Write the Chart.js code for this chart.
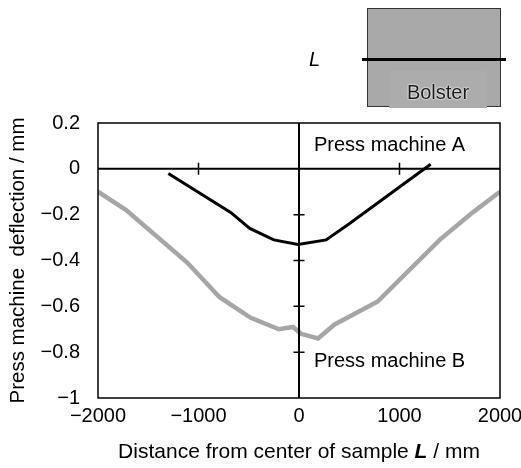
<!DOCTYPE html>
<html>
<head>
<meta charset="utf-8">
<script src="https://cdn.jsdelivr.net/npm/chart.js@4"></script>
<style>
  html, body { margin: 0; padding: 0; background: #fff; }
  #wrap { position: relative; width: 521px; height: 468px; }
  #c { position: absolute; left: 0; top: 0; }
  .box { position: absolute; left: 367px; top: 8px; width: 132px; height: 97px; background: #a9a9a9; border: 1.5px solid #333; }
  .inner { position: absolute; left: 389px; top: 71px; width: 98px; height: 37px; background: #acacac; }
  .bar { position: absolute; left: 362px; top: 57.5px; width: 144px; height: 3px; background: #000; }
  .bol { position: absolute; left: 388px; top: 79px; width: 100px; text-align: center; font: 20px "Liberation Sans", Arial, sans-serif; color: #1a1a1a; text-shadow: 0 0 2px #fff, 0 0 2px #fff; line-height: 26px; }
  .L { position: absolute; left: 309px; top: 46px; font: italic 20px "Liberation Sans", Arial, sans-serif; color: #000; line-height: 26px; }
</style>
</head>
<body>
<div id="wrap">
  <canvas id="c" width="521" height="468"></canvas>
  <div class="box"></div>
  <div class="inner"></div>
  <div class="bar"></div>
  <div class="bol">Bolster</div>
  <div class="L">L</div>
</div>
<script>
// ---- data ----
const seriesNames = ["Press machine A", "Press machine B"];
const xA = [-1300, -680, -490, -250, -10, 270, 500, 1310];
const yA = [-0.02, -0.19, -0.26, -0.31, -0.33, -0.31, -0.24, 0.02];
const xB = [-2000, -1720, -1110, -790, -480, -200, -60, 20, 190, 350, 780, 1400, 1730, 2000];
const yB = [-0.10, -0.18, -0.41, -0.56, -0.65, -0.70, -0.69, -0.72, -0.74, -0.68, -0.58, -0.31, -0.19, -0.10];
const xTicks = [-2000, -1000, 0, 1000, 2000];
const yTicks = [0.2, 0, -0.2, -0.4, -0.6, -0.8, -1];
const yTitle = "Press machine  deflection / mm";
const xTitleParts = ["Distance from center of sample ", "L", " / mm"];

const FONT = '"Liberation Sans", Arial, sans-serif';
Chart.defaults.font.family = FONT;
Chart.defaults.color = "#000";

const fmt = v => {
  const r = Math.round(v * 10) / 10;
  const s = (Math.abs(r) < 1e-9) ? "0" : String(r);
  return s.replace("-", "\u2212");
};

const decor = {
  id: "decor",
  afterDatasetsDraw(chart) {
    const { ctx, chartArea: a, scales: { x, y } } = chart;
    ctx.save();
    ctx.strokeStyle = "#000";
    ctx.lineWidth = 1.5;
    ctx.strokeRect(a.left, a.top, a.right - a.left, a.bottom - a.top);
    const x0 = x.getPixelForValue(0), y0 = y.getPixelForValue(0);
    ctx.lineWidth = 2;
    ctx.beginPath();
    ctx.moveTo(a.left, y0); ctx.lineTo(a.right, y0);
    ctx.moveTo(x0, a.top); ctx.lineTo(x0, a.bottom);
    ctx.stroke();
    ctx.lineWidth = 1.5;
    ctx.beginPath();
    xTicks.forEach(v => {
      if (v === 0 || v === xTicks[0] || v === xTicks[xTicks.length - 1]) return;
      const px = x.getPixelForValue(v);
      ctx.moveTo(px, y0 - 6); ctx.lineTo(px, y0 + 6);
    });
    yTicks.forEach(v => {
      if (v === 0 || v === yTicks[0] || v === yTicks[yTicks.length - 1]) return;
      const py = y.getPixelForValue(v);
      ctx.moveTo(x0 - 5.5, py); ctx.lineTo(x0 + 5.5, py);
    });
    ctx.stroke();
    ctx.fillStyle = "#000";
    ctx.font = "20px " + FONT;
    ctx.textAlign = "left";
    ctx.textBaseline = "middle";
    ctx.fillText(seriesNames[0], x0 + 15, y.getPixelForValue(0.104));
    ctx.fillText(seriesNames[1], x0 + 15, y.getPixelForValue(-0.842));
    const fonts = ["21px " + FONT, "italic bold 21px " + FONT, "21px " + FONT];
    let total = 0;
    const widths = xTitleParts.map((t, i) => { ctx.font = fonts[i]; const w = ctx.measureText(t).width; total += w; return w; });
    let cx = (a.left + a.right) / 2 - total / 2;
    xTitleParts.forEach((t, i) => { ctx.font = fonts[i]; ctx.fillText(t, cx, 452); cx += widths[i]; });
    ctx.restore();
  }
};

new Chart(document.getElementById("c"), {
  type: "line",
  data: {
    datasets: [
      { label: seriesNames[0], data: xA.map((v, i) => ({ x: v, y: yA[i] })), borderColor: "#000", borderWidth: 3, pointRadius: 0, tension: 0, fill: false },
      { label: seriesNames[1], data: xB.map((v, i) => ({ x: v, y: yB[i] })), borderColor: "#a6a6a6", borderWidth: 4.5, pointRadius: 0, tension: 0, fill: false }
    ]
  },
  options: {
    responsive: false,
    animation: false,
    layout: { padding: { top: 123, right: 21, left: 0, bottom: 0 } },
    plugins: { legend: { display: false }, tooltip: { enabled: false } },
    scales: {
      x: {
        type: "linear", min: -2000, max: 2000,
        afterBuildTicks: s => { s.ticks = xTicks.map(v => ({ value: v })); },
        afterFit: s => { s.height = 70; s.paddingLeft = 0; s.paddingRight = 0; },
        grid: { display: false, drawTicks: false },
        border: { display: false },
        ticks: { padding: 6, font: { size: 20 }, callback: v => String(v).replace("-", "\u2212"), maxRotation: 0 }
      },
      y: {
        min: -1, max: 0.2,
        afterBuildTicks: s => { s.ticks = yTicks.map(v => ({ value: v })); },
        afterFit: s => { s.width = 98; },
        grid: { display: false, drawTicks: false },
        border: { display: false },
        ticks: { padding: 18, font: { size: 20 }, callback: v => fmt(v) },
        title: { display: true, text: yTitle, font: { size: 20.5 }, padding: { top: 6, bottom: 0 } }
      }
    }
  },
  plugins: [decor]
});
</script>
</body>
</html>
